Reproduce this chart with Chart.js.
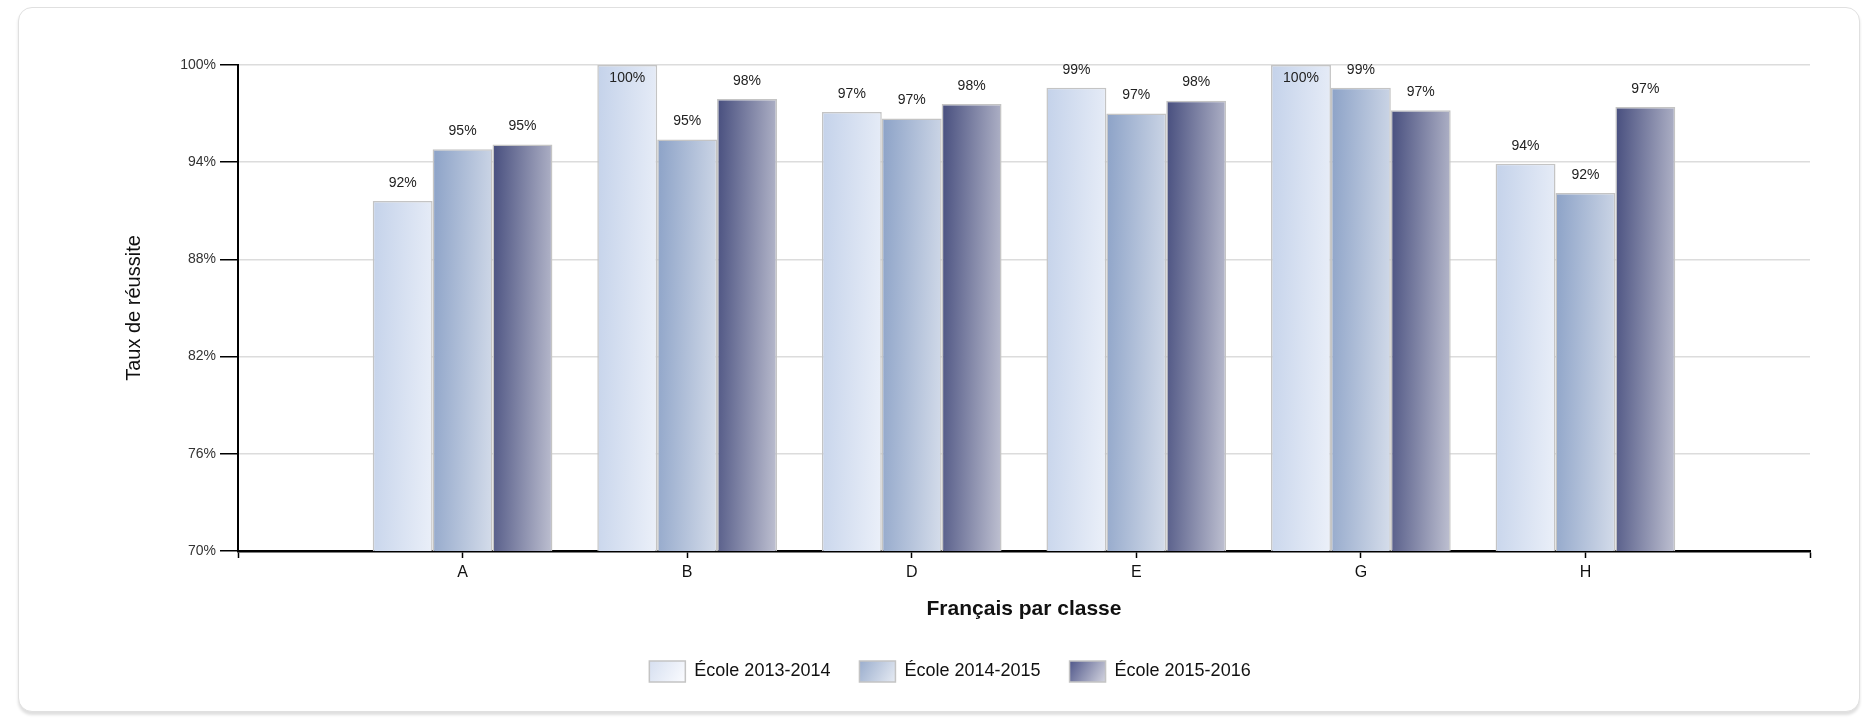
<!DOCTYPE html>
<html><head><meta charset="utf-8">
<script src="https://cdn.jsdelivr.net/npm/chart.js@4.4.1/dist/chart.umd.min.js"></script>
<style>
html,body{margin:0;padding:0;background:#fff;width:1862px;height:722px;overflow:hidden}
#card{position:absolute;left:18px;top:7px;width:1842px;height:705px;border:1px solid #e0e0e0;border-radius:14px;box-shadow:0 3px 3px rgba(0,0,0,0.13);background:#fff;box-sizing:border-box}
#c{position:absolute;left:0;top:0}
</style></head><body>
<div id="card"></div>
<canvas id="c" width="1862" height="722"></canvas>
<script>
const categories = ['A', 'B', 'D', 'E', 'G', 'H'];
const seriesNames = ['École 2013-2014', 'École 2014-2015', 'École 2015-2016'];
const values2013 = [91.6, 100, 97.1, 98.6, 100, 93.9];
const values2014 = [94.8, 95.4, 96.7, 97.0, 98.6, 92.1];
const values2015 = [95.1, 97.9, 97.6, 97.8, 97.2, 97.4];
const yMin = 70, yMax = 100, yStep = 6;
const xTitle = 'Français par classe';
const yTitle = 'Taux de réussite';

const gradStops = [['#c4d2ea', '#fbfcff'], ['#8ca2c7', '#f3f5f9'], ['#474e7e', '#efeff3']];
const legendStops = [['#d6dff0', '#fbfcff'], ['#9aadcd', '#e6ebf3'], ['#50578a', '#d3d4df']];
const midColors = ['#e0e8f4', '#bccae0', '#8a8fab'];
const FONT = '"Liberation Sans", Arial, sans-serif';

// padded category list so categories sit at integer positions 1..6 on a 0..7 axis
const labels = [''].concat(categories, ['']);
const pad = arr => [null].concat(arr, [null]);
const seriesValues = [values2013, values2014, values2015];

function diagGradient(ctx, left, top, w, h, stops) {
  const gx = 0.6 / w, gy = 0.4 / h;
  const n = gx * gx + gy * gy;
  const g = ctx.createLinearGradient(left, top, left + gx / n, top + gy / n);
  g.addColorStop(0, stops[0]);
  g.addColorStop(1, stops[1]);
  return g;
}

const gradientPlugin = {
  id: 'barGradient',
  beforeDatasetDraw(chart, args) {
    const ctx = chart.ctx;
    const stops = gradStops[args.index];
    const ds = chart.data.datasets[args.index];
    args.meta.data.forEach((el, i) => {
      if (ds.data[i] == null) return;
      const p = el.getProps(['x', 'y', 'base', 'width'], true);
      const h = Math.max(1, p.base - p.y);
      const g = diagGradient(ctx, p.x - p.width / 2, p.y, p.width, h, stops);
      el.options = Object.assign({}, el.options, { backgroundColor: g });
    });
  },
  beforeDraw(chart) {
    const lg = chart.legend;
    if (!lg || !lg.legendItems || !lg.legendHitBoxes) return;
    const bw = lg.options.labels.boxWidth;
    lg.legendItems.forEach((it, i) => {
      const hb = lg.legendHitBoxes[i];
      if (!hb) return;
      const g = chart.ctx.createLinearGradient(hb.left, hb.top, hb.left + bw, hb.top + hb.height);
      g.addColorStop(0, legendStops[i][0]);
      g.addColorStop(1, legendStops[i][1]);
      it.fillStyle = g;
    });
  }
};

const valueLabelPlugin = {
  id: 'valueLabels',
  afterDatasetsDraw(chart) {
    const ctx = chart.ctx;
    ctx.save();
    ctx.font = '14px ' + FONT;
    ctx.fillStyle = '#222';
    ctx.textAlign = 'center';
    ctx.textBaseline = 'middle';
    chart.data.datasets.forEach((ds, di) => {
      const meta = chart.getDatasetMeta(di);
      meta.data.forEach((el, i) => {
        const v = ds.data[i];
        if (v == null) return;
        const r = Math.round(v);
        const y = r >= 100 ? el.y + 13 : el.y - 18;
        ctx.fillText(r + '%', el.x, y);
      });
    });
    ctx.restore();
  }
};

const datasets = seriesNames.map((name, i) => ({
  label: name,
  data: pad(seriesValues[i]),
  backgroundColor: midColors[i],
  borderColor: '#c4c4c4',
  borderWidth: 1.5,
  borderSkipped: 'bottom',
  barPercentage: 1.0,
  categoryPercentage: 0.8
}));

new Chart(document.getElementById('c'), {
  type: 'bar',
  data: { labels: labels, datasets: datasets },
  plugins: [gradientPlugin, valueLabelPlugin],
  options: {
    responsive: false,
    devicePixelRatio: 1,
    animation: false,
    layout: { padding: { left: 90, right: 52, top: 65, bottom: 30 } },
    plugins: {
      tooltip: { enabled: false },
      legend: {
        position: 'bottom',
        labels: {
          font: { family: FONT, size: 18 },
          color: '#111',
          boxWidth: 36,
          boxHeight: 21,
          padding: 29
        }
      }
    },
    scales: {
      x: {
        type: 'category',
        offset: false,
        z: 1,
        grid: { offset: false, drawOnChartArea: false, drawTicks: true, tickLength: 7, tickColor: '#000', tickWidth: 1.5 },
        border: { display: true, color: '#000', width: 2.5 },
        ticks: { font: { family: FONT, size: 16 }, color: '#111', padding: 5, autoSkip: false, maxRotation: 0 },
        title: { display: true, text: xTitle, font: { family: FONT, size: 21, weight: 'bold' }, color: '#111', padding: { top: 0, bottom: 10 } },
        afterFit(s) { s.height = 81; }
      },
      y: {
        min: yMin, max: yMax,
        ticks: { stepSize: yStep, callback: v => v + '%', font: { family: FONT, size: 14 }, color: '#333', padding: 4 },
        grid: { color: '#dcdcdc', lineWidth: 1.5, tickColor: '#000', tickLength: 18, tickWidth: 1.5 },
        border: { display: true, color: '#000', width: 2 },
        title: { display: true, text: yTitle, font: { family: FONT, size: 20 }, color: '#111', padding: { top: 32, bottom: 0 } },
        afterFit(s) { s.width = 148; }
      }
    }
  }
});
</script>
</body></html>
